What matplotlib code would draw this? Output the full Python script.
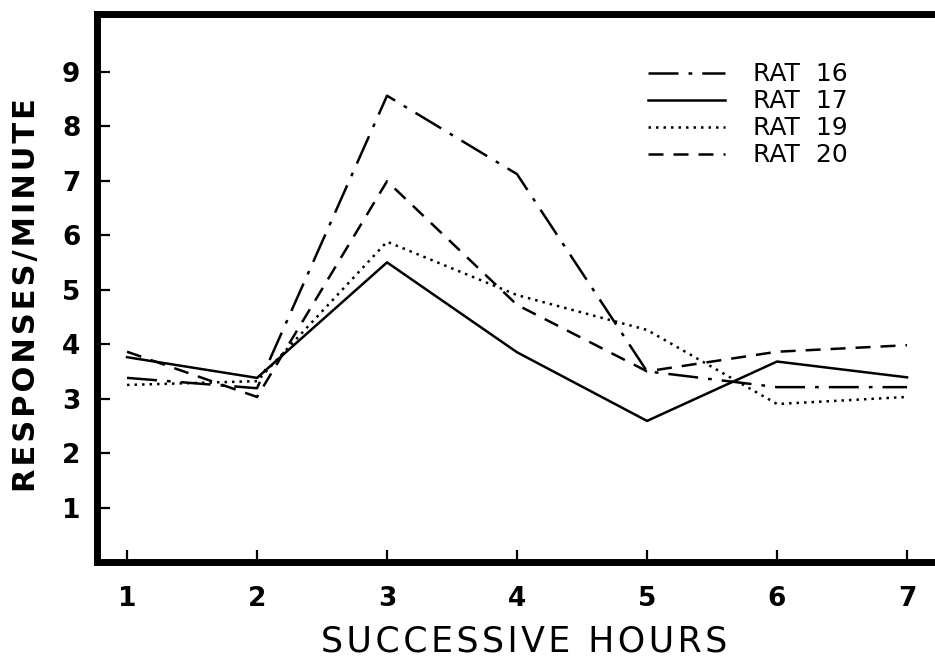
import numpy as np
import matplotlib
matplotlib.use("Agg")
import matplotlib.pyplot as plt

# hours and responses/minute
hours = [1, 2, 3, 4, 5, 6, 7]
rat16 = [3.38, 3.19, 8.56, 7.12, 3.50, 3.21, 3.21]
rat17 = [3.76, 3.38, 5.50, 3.85, 2.59, 3.68, 3.39]
rat19 = [3.25, 3.32, 5.88, 4.90, 4.26, 2.90, 3.03]
rat20 = [3.86, 3.03, 6.99, 4.72, 3.50, 3.86, 3.98]

labels = ["RAT  16", "RAT  17", "RAT  19", "RAT  20"]
styles = [(0, (12, 4, 1.5, 4)), "-", (0, (1, 2)), (0, (6, 4))]

def spaced(s, sp="\u2009"):
    # wide letter spacing like the hand lettering
    return sp.join(s)

fig = plt.figure(figsize=(9.35, 6.58), dpi=100)
ax = fig.add_axes([97 / 935, (658 - 562) / 658, 1 - 97 / 935, (562 - 14) / 658])

for vals, lab, ls in zip([rat16, rat17, rat19, rat20], labels, styles):
    ax.plot(hours, vals, color="black", lw=1.8, ls=ls, label=lab)

ax.set_xlim(0.769, 7.215)
ax.set_ylim(0, 10.06)
ax.set_xticks(hours)
ax.set_yticks(range(1, 10))
ax.tick_params(direction="in", length=9, width=1.6, labelsize=19, pad=17)
ax.tick_params(axis="y", pad=12)
for t in ax.get_xticklabels() + ax.get_yticklabels():
    t.set_fontweight("bold")

for s in ["left", "top", "bottom"]:
    ax.spines[s].set_linewidth(5)
ax.spines["right"].set_visible(False)

fig.text(524 / 935, 1 - 641 / 658, spaced("SUCCESSIVE HOURS", "\u200a"),
         fontsize=25, ha="center", va="center")
fig.text(27 / 935, 1 - 295 / 658, spaced("RESPONSES/MINUTE", "\u200a"),
         fontsize=22, fontweight="bold", rotation=90, ha="center", va="center")

leg = ax.legend(loc="upper left", bbox_to_anchor=(0.645, 0.93), frameon=False,
                fontsize=18, handlelength=3.1, handletextpad=1.1,
                labelspacing=0.12, borderaxespad=0)

fig.savefig("out.png", dpi=100)
